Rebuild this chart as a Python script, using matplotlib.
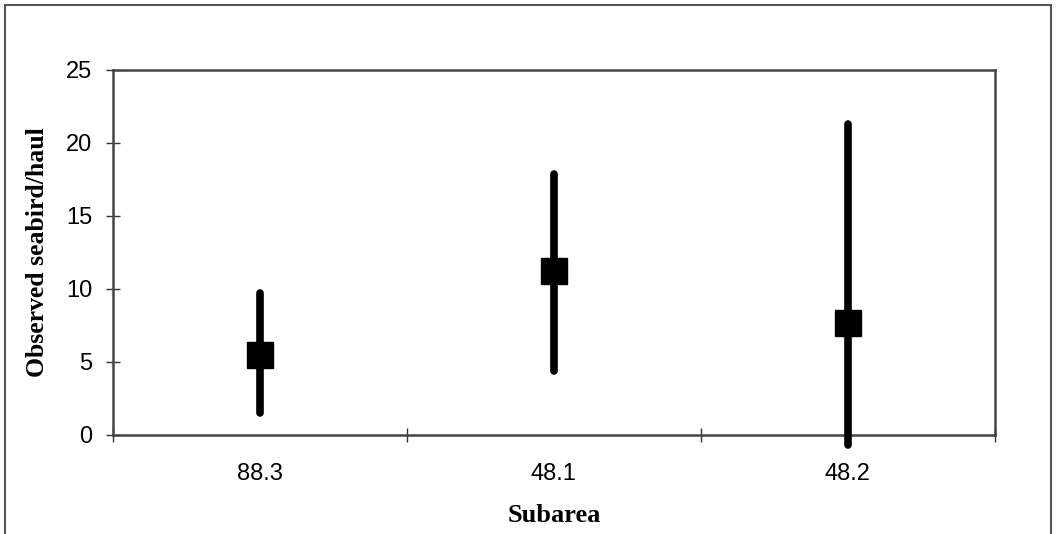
import numpy as np
import matplotlib.pyplot as plt
from matplotlib.patches import Rectangle

# Observed seabirds per haul by subarea (mean with range)
subareas = ['88.3', '48.1', '48.2']
means = [5.5, 11.2, 7.7]
upper = [9.7, 17.9, 21.3]
lower = [1.5, 4.4, -0.7]
y_ticks = [0, 5, 10, 15, 20, 25]

fig = plt.figure(figsize=(10.56, 5.34), dpi=100)
ax = fig.add_axes([0.107, 0.1854, 0.835, 0.6836])

x = np.arange(len(subareas))
means = np.array(means)
yerr = [means - np.array(lower), np.array(upper) - means]
bars = ax.errorbar(x, means, yerr=yerr, fmt='s', color='black', ms=19,
                   elinewidth=5.5, capsize=0, zorder=3)
for art in bars.lines[2]:
    art.set_clip_on(False)
    art.set_capstyle('round')
bars.lines[0].set_clip_on(False)

ax.set_xlim(-0.5, 2.5)
ax.set_ylim(0, 25)
ax.set_yticks(y_ticks)
ax.set_yticklabels([str(v) for v in y_ticks], fontsize=17, family='Liberation Sans')

# category boundaries as major ticks, labels on minor ticks
ax.set_xticks([-0.5, 0.5, 1.5, 2.5])
ax.set_xticklabels([])
ax.set_xticks(x, minor=True)
ax.set_xticklabels(subareas, minor=True, fontsize=17, family='Liberation Sans')
ax.tick_params(axis='x', which='major', direction='inout', length=10, width=1, color='#333333')
ax.tick_params(axis='x', which='minor', length=0, pad=20)
ax.tick_params(axis='y', direction='inout', length=10, width=1, color='#333333', pad=10)

for sp in ax.spines.values():
    sp.set_color('#444444')
    sp.set_linewidth(1.8)

ax.set_ylabel('Observed seabird/haul', fontsize=18.5, fontweight='bold',
              family='Liberation Serif', labelpad=12)
ax.set_xlabel('Subarea', fontsize=19, fontweight='bold',
              family='Liberation Serif', labelpad=14)

# outer frame around the whole figure
fig.patches.append(Rectangle((0.005, -0.01), 0.99, 1.0, transform=fig.transFigure,
                             fill=False, edgecolor='#555555', linewidth=1.5))

fig.savefig('out.png', dpi=100)
